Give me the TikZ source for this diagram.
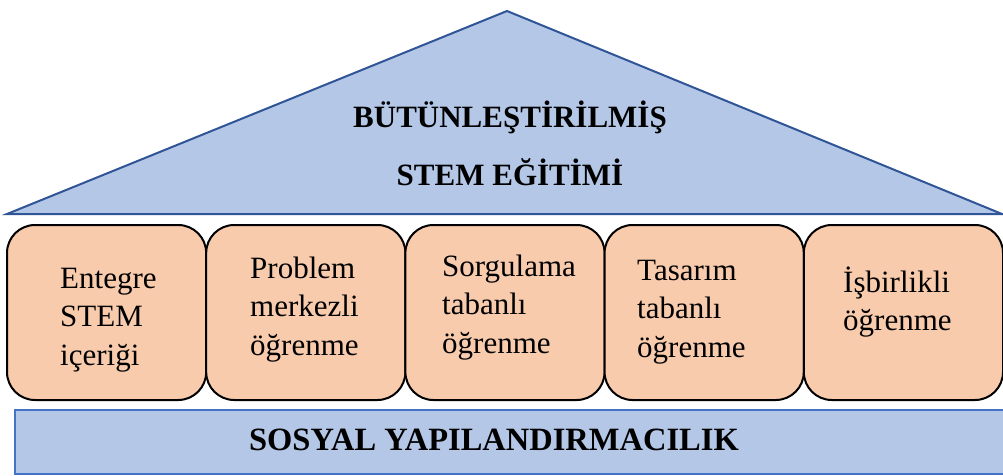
\documentclass[tikz,border=0pt]{standalone}
\usepackage{fontspec}
\setmainfont{Liberation Serif}
\definecolor{roofblue}{HTML}{B4C7E7}
\definecolor{roofedge}{HTML}{2F5597}
\definecolor{pillarfill}{HTML}{F8CBAD}
\definecolor{baseedge}{HTML}{4472C4}
\tikzset{
    roof/.style={fill=roofblue, draw=roofedge, line width=2pt, line join=miter},
    basebar/.style={fill=roofblue, draw=baseedge, line width=1.5pt},
    pillar/.style={draw=black, fill=pillarfill, line width=2pt, rounded corners=28pt,
        minimum width=199.2pt, minimum height=175pt, inner sep=0pt},
    pillartext/.style={align=left, anchor=west, inner sep=0pt,
        font=\fontsize{31}{38.5}\selectfont},
    heading/.style={anchor=base, inner sep=0pt, font=\bfseries\fontsize{31}{36}\selectfont}
}
\begin{document}
\begin{tikzpicture}[x=1pt, y=-1pt]
    \useasboundingbox (0,0) rectangle (1003,476);

    % roof
    \draw[roof] (7,214) -- (507,11) -- (1002,214) -- cycle;
    \node[heading] (title1) at (510,128) {BÜTÜNLEŞTİRİLMİŞ};
    \node[heading] (title2) at (510,185) {STEM EĞİTİMİ};

    % pillars
    \node[pillar] (p1) at (106.6,312.5) {};
    \node[pillar] (p2) at (305.8,312.5) {};
    \node[pillar] (p3) at (505.0,312.5) {};
    \node[pillar] (p4) at (704.2,312.5) {};
    \node[pillar] (p5) at (903.4,312.5) {};

    \node[pillartext] (t1) at (60,319.7) {Entegre\\STEM\\içeriği};
    \node[pillartext] (t2) at (250,309.4) {Problem\\merkezli\\öğrenme};
    \node[pillartext] (t3) at (442,307.4) {Sorgulama\\tabanlı\\öğrenme};
    \node[pillartext] (t4) at (637,312) {Tasarım\\tabanlı\\öğrenme};
    \node[pillartext] (t5) at (843,301.9) {İşbirlikli\\öğrenme};

    % foundation
    \draw[basebar] (15,410) rectangle (1010,474);
    \node[heading, font=\bfseries\fontsize{32.5}{36}\selectfont] (found) at (494,450) {SOSYAL YAPILANDIRMACILIK};
\end{tikzpicture}
\end{document}
